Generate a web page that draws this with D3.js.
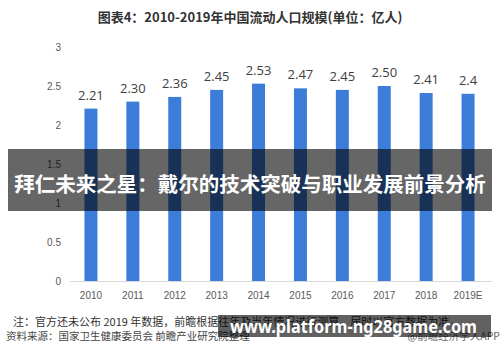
<!DOCTYPE html>
<html><head><meta charset="utf-8">
<script src="https://cdn.jsdelivr.net/npm/d3@7"></script>
<style>
body{margin:0;background:#fff;}
svg{display:block;font-family:"Noto Sans CJK SC","Noto Sans",sans-serif;}
</style></head>
<body>
<svg id="c" width="500" height="362"></svg>
<script>
const years = ["2010","2011","2012","2013","2014","2015","2016","2017","2018","2019E"];
const values = [2.21,2.30,2.36,2.45,2.53,2.47,2.45,2.50,2.41,2.4];
const valueLabels = ["2.21","2.30","2.36","2.45","2.53","2.47","2.45","2.50","2.41","2.4"];
const yTicks = [0,0.5,1,1.5,2,2.5,3];
const title = "图表4：2010-2019年中国流动人口规模(单位：亿人)";
const note = "注：官方还未公布 2019 年数据，前瞻根据往年及当年情况进行测算，届时以官方数据为准。";
const source = "资料来源：国家卫生健康委员会 前瞻产业研究院整理";
const credit = "@前瞻经济学人APP";
const banner = "拜仁未来之星：戴尔的技术突破与职业发展前景分析";
const url = "www.platform-ng28game.com";

const svg = d3.select("#c");
const x = d3.scaleBand().domain(years).range([70, 489]).paddingInner(0.69).paddingOuter(0.345);
const y = d3.scaleLinear().domain([0,3]).range([281, 47]);

svg.append("text").attr("x",250).attr("y",22).attr("text-anchor","middle")
  .attr("font-size",13).attr("font-weight","bold").attr("fill","#333").text(title);

// y tick labels
svg.selectAll(".yt").data(yTicks).join("text")
  .attr("x",61).attr("y",d=>y(d)+4).attr("text-anchor","end")
  .attr("font-size",10).attr("fill","#595959").attr("font-family","Liberation Sans, Arial, sans-serif")
  .text(d=>d);

// baseline
svg.append("line").attr("x1",70).attr("x2",492).attr("y1",y(0)+0.5).attr("y2",y(0)+0.5)
  .attr("stroke","#d9d9d9").attr("stroke-width",1);

// x axis labels
const xAxis = svg.append("g").attr("transform",`translate(0,${y(0)})`)
  .call(d3.axisBottom(x).tickSize(0).tickPadding(11));
xAxis.select(".domain").remove();
xAxis.selectAll("text").attr("font-size",10).attr("fill","#595959")
  .attr("font-family","Liberation Sans, Arial, sans-serif");

// bars
svg.selectAll(".bar").data(values).join("rect")
  .attr("x",(d,i)=>x(years[i])).attr("width",x.bandwidth())
  .attr("y",d=>y(d)).attr("height",d=>y(0)-y(d)).attr("fill","#3b7dd8");

// value labels
svg.selectAll(".vl").data(values).join("text")
  .attr("x",(d,i)=>x(years[i])+x.bandwidth()/2).attr("y",d=>y(d)-9)
  .attr("text-anchor","middle").attr("font-size",13).attr("fill","#404040")
  .attr("font-family","Open Sans, sans-serif")
  .text((d,i)=>valueLabels[i]);

// notes
svg.append("text").attr("x",13).attr("y",326).attr("font-size",11).attr("fill","#333").text(note);
svg.append("text").attr("x",6).attr("y",340).attr("font-size",10.5).attr("fill","#444").text(source);
svg.append("text").attr("x",500).attr("y",340).attr("text-anchor","end").attr("font-size",10.5).attr("fill","#666").text(credit);

// overlay banner
svg.append("rect").attr("x",8).attr("y",149).attr("width",484).attr("height",62).attr("fill","rgba(0,0,0,0.6)");
svg.append("text").attr("x",250).attr("y",192).attr("text-anchor","middle")
  .attr("font-size",20.5).attr("font-weight","bold").attr("fill","#fff").text(banner);

svg.append("rect").attr("x",218).attr("y",315).attr("width",273).attr("height",22).attr("fill","rgba(0,0,0,0.62)");
svg.append("text").attr("x",230).attr("y",333)
  .attr("font-size",18).attr("font-weight","bold").attr("fill","#fff")
  .attr("font-family","Noto Sans, sans-serif")
  .attr("textLength",247).attr("lengthAdjust","spacingAndGlyphs").text(url);
</script>
</body></html>
